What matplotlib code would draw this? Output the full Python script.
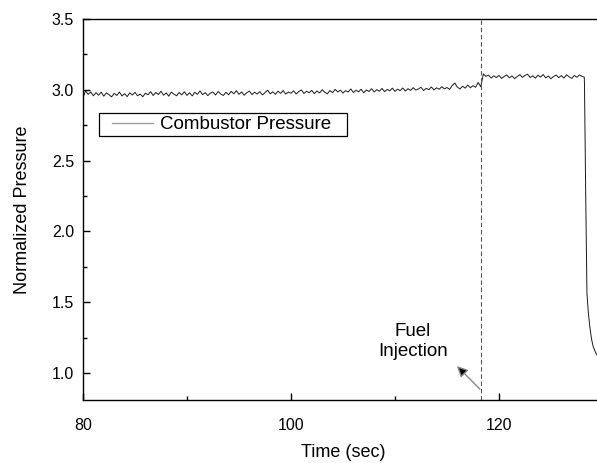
import numpy as np
import matplotlib
matplotlib.use("Agg")
import matplotlib.pyplot as plt
from matplotlib.lines import Line2D
from matplotlib.patches import Rectangle
from matplotlib.ticker import MultipleLocator, FormatStrFormatter

plt.rcParams['font.family'] = ['Liberation Sans', 'DejaVu Sans']

# === data ===
# before fuel injection, sampled every 0.25 s from 80.0 s
PRE_T0 = 80.0
PRE_DT = 0.25
pre_pressure = [
    2.945, 2.992, 2.968, 2.985, 2.958, 2.980, 2.962, 2.983, 2.955, 2.978,
    2.966, 2.950, 2.975, 2.960, 2.984, 2.957, 2.973, 2.952, 2.979, 2.963,
    2.982, 2.958, 2.970, 2.951, 2.976, 2.965, 2.987, 2.960, 2.981, 2.967,
    2.990, 2.962, 2.978, 2.955, 2.984, 2.969, 2.958, 2.981, 2.964, 2.986,
    2.961, 2.979, 2.957, 2.983, 2.968, 2.992, 2.966, 2.980, 2.959, 2.977,
    2.984, 2.963, 2.988, 2.970, 2.960, 2.982, 2.965, 2.989, 2.972, 2.994,
    2.968, 2.985, 2.962, 2.979, 2.991, 2.966, 2.983, 2.970, 2.987, 2.964,
    2.981, 2.997, 2.972, 2.986, 2.968, 2.990, 2.975, 2.995, 2.970, 2.984,
    2.976, 2.993, 2.971, 2.988, 2.999, 2.974, 2.990, 2.979, 2.996, 2.973,
    2.992, 2.978, 3.001, 2.983, 2.972, 2.995, 2.980, 3.003, 2.985, 2.998,
    2.977, 2.994, 2.984, 3.006, 2.981, 2.997, 2.986, 3.004, 2.979, 2.999,
    2.988, 3.008, 2.985, 3.001, 2.990, 3.010, 2.987, 3.003, 2.993, 3.012,
    2.989, 3.005, 2.994, 3.013, 2.991, 3.008, 2.996, 3.015, 2.998, 3.006,
    3.018, 2.995, 3.010, 3.001, 3.020, 2.999, 3.014, 3.004, 3.022, 3.007,
    3.016, 3.003, 3.030, 3.048, 3.019, 3.006, 3.025, 3.012, 3.033, 3.015,
    3.029, 3.018, 3.052, 3.022,
]

# after fuel injection, sampled every 0.25 s from 118.5 s
POST_T0 = 118.5
POST_DT = 0.25
post_pressure = [
    3.112, 3.095, 3.104, 3.083, 3.099, 3.086, 3.102, 3.080, 3.094, 3.105,
    3.085, 3.098, 3.079, 3.093, 3.107, 3.088, 3.101, 3.110, 3.087, 3.099,
    3.082, 3.103, 3.090, 3.108, 3.084, 3.097, 3.078, 3.094, 3.104, 3.086,
    3.100, 3.083, 3.106, 3.091, 3.081, 3.101, 3.089, 3.105, 3.094,
]

# shutdown drop
drop_time = [128.2, 128.22, 128.35, 128.46, 128.6, 128.75, 128.9, 129.05, 129.2, 129.4]
drop_pressure = [3.09, 3.05, 2.20, 1.56, 1.42, 1.32, 1.24, 1.19, 1.16, 1.13]

injection_time = 118.3

# build the full trace
pre_time = PRE_T0 + PRE_DT * np.arange(len(pre_pressure))
post_time = POST_T0 + POST_DT * np.arange(len(post_pressure))
time = np.concatenate([pre_time, post_time, drop_time])
pressure = np.concatenate([pre_pressure, post_pressure, drop_pressure])

fig = plt.figure(figsize=(5.97, 4.63), dpi=100)
ax = fig.add_axes([0.139, 0.136, 0.871, 0.823])

ax.plot(time, pressure, color='#1a1a1a', linewidth=0.7)
ax.axvline(injection_time, color='#555555', linestyle=(0, (4, 2.5)), linewidth=0.8)

ax.annotate('', xy=(115.96, 1.05), xytext=(118.17, 0.887),
            arrowprops=dict(arrowstyle='-|>', color='#888888', lw=1.0,
                            mutation_scale=16, shrinkA=0, shrinkB=0,
                            fc='black', ec='#888888'))
ax.text(111.7, 1.225, 'Fuel\nInjection', ha='center', va='center',
        fontsize=13.5, linespacing=1.2)

ax.set_xlim(80, 130)
ax.set_ylim(0.81, 3.5)
ax.xaxis.set_major_locator(MultipleLocator(20))
ax.xaxis.set_minor_locator(MultipleLocator(10))
ax.yaxis.set_major_locator(MultipleLocator(0.5))
ax.yaxis.set_minor_locator(MultipleLocator(0.25))
ax.yaxis.set_major_formatter(FormatStrFormatter('%.1f'))
ax.tick_params(which='both', direction='in', width=1.0, labelsize=11.5)
ax.tick_params(which='major', length=5)
ax.tick_params(which='minor', length=3)
ax.tick_params(axis='x', pad=13)
ax.tick_params(axis='y', pad=6.5)
for s in ax.spines.values():
    s.set_linewidth(1.0)

ax.set_xlabel('Time (sec)', fontsize=13, labelpad=8)
ax.set_ylabel('Normalized Pressure', fontsize=13, labelpad=15)

# legend: square black box drawn separately so the padding matches
ax.add_patch(Rectangle((0.0308, 0.693), 0.477, 0.060, transform=ax.transAxes,
                       facecolor='white', edgecolor='black', linewidth=0.9,
                       zorder=4))
handle = Line2D([], [], color='#a0a0a0', linewidth=1.0)
leg = ax.legend([handle], ['Combustor Pressure'], loc='center left',
                bbox_to_anchor=(0.0558, 0.723), borderaxespad=0, borderpad=0,
                fontsize=13.5, handlelength=2.2, handletextpad=0.37,
                frameon=False)
leg.set_zorder(5)

fig.savefig('out.png', dpi=100)
